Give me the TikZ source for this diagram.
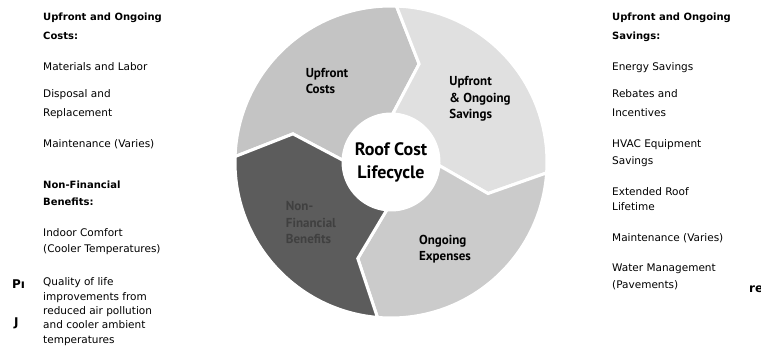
\documentclass[tikz,border=0pt]{standalone}
\usepackage{fontspec}
\setmainfont{DejaVu Sans}
\newfontfamily\ringfont{PT Sans}
\usetikzlibrary{positioning}
\definecolor{costgray}{HTML}{C4C4C4}
\definecolor{savegray}{HTML}{E0E0E0}
\definecolor{expgray}{HTML}{CBCBCB}
\definecolor{benegray}{HTML}{5C5C5C}
\tikzset{
  seg/.style={draw=white,line width=3pt,line join=miter},
  head/.style={font=\fontsize{10}{19}\selectfont\bfseries,align=left,anchor=base west,inner sep=0pt},
  item/.style={font=\fontsize{10.5}{19}\selectfont,align=left,anchor=base west,inner sep=0pt},
  lbl/.style={font=\ringfont\fontsize{13}{16.5}\selectfont\bfseries,align=left,inner sep=0pt},
  hub/.style={font=\ringfont\fontsize{18}{23}\selectfont\bfseries,align=center,inner sep=0pt},
  frag/.style={font=\fontsize{12}{12}\selectfont\bfseries,anchor=base west,inner sep=0pt},
}

\begin{document}
\begin{tikzpicture}[x=1pt,y=-1pt]
  \useasboundingbox (0,0) rectangle (761,364);
  % lifecycle ring, four arrow segments running clockwise
  \begin{scope}[shift={(391,162)},yscale=-1]
    \path[seg,fill=costgray] (178:156) arc[start angle=178,end angle=88,radius=156] -- (74:102) -- (88:48) arc[start angle=88,end angle=178,radius=48] -- (164:102) -- cycle;
    \path[seg,fill=savegray] (88:156) arc[start angle=88,end angle=-4,radius=156] -- (-18:102) -- (-4:48) arc[start angle=-4,end angle=88,radius=48] -- (74:102) -- cycle;
    \path[seg,fill=expgray] (-4:156) arc[start angle=-4,end angle=-95,radius=156] -- (-109:102) -- (-95:48) arc[start angle=-95,end angle=-4,radius=48] -- (-18:102) -- cycle;
    \path[seg,fill=benegray] (265:156) arc[start angle=265,end angle=178,radius=156] -- (164:102) -- (178:48) arc[start angle=178,end angle=265,radius=48] -- (251:102) -- cycle;
    \node[hub] (hub) at (0,0) {Roof Cost\\Lifecycle};
  \end{scope}
  \node[lbl] (costs) at (327,81) {Upfront\\Costs};
  \node[lbl] (savings) at (480,99) {Upfront\\\& Ongoing\\Savings};
  \node[lbl] (expenses) at (445,249) {Ongoing\\Expenses};
  \node[lbl,text=black!75] (benefits) at (311,223) {Non-\\Financial\\Benefits};

  % left column (each node sits on the baseline of its last line)
  \node[head] (lh1) at (43,39) {Upfront and Ongoing\\Costs:};
  \node[item] (l1) at (43,70) {Materials and Labor};
  \node[item] (l2) at (43,116) {Disposal and\\Replacement};
  \node[item] (l3) at (43,147) {Maintenance (Varies)};
  \node[head,font=\fontsize{10}{17}\selectfont\bfseries] (lh2) at (43,205) {Non-Financial\\Benefits:};
  \node[item,font=\fontsize{10.5}{16}\selectfont] (l4) at (43,252) {Indoor Comfort\\(Cooler Temperatures)};
  \node[item,font=\fontsize{10.5}{14.3}\selectfont] (l5) at (43,343) {Quality of life\\improvements from\\reduced air pollution\\and cooler ambient\\temperatures};

  % right column
  \node[head] (rh1) at (612,39) {Upfront and Ongoing\\Savings:};
  \node[item] (r1) at (612,70) {Energy Savings};
  \node[item] (r2) at (612,116) {Rebates and\\Incentives};
  \node[item,font=\fontsize{10.5}{17}\selectfont] (r3) at (612,164) {HVAC Equipment\\Savings};
  \node[item,font=\fontsize{10.5}{15}\selectfont] (r4) at (612,210) {Extended Roof\\Lifetime};
  \node[item] (r5) at (612,241) {Maintenance (Varies)};
  \node[item,font=\fontsize{10.5}{17}\selectfont] (r6) at (612,288) {Water Management\\(Pavements)};

  % cut-off fragments at the page edges
  \node[frag] (fp) at (12,288) {P\i};
  \node[frag] (fj) at (14,326) {J};
  \node[frag] (fr) at (749,292) {re};
\end{tikzpicture}
\end{document}
